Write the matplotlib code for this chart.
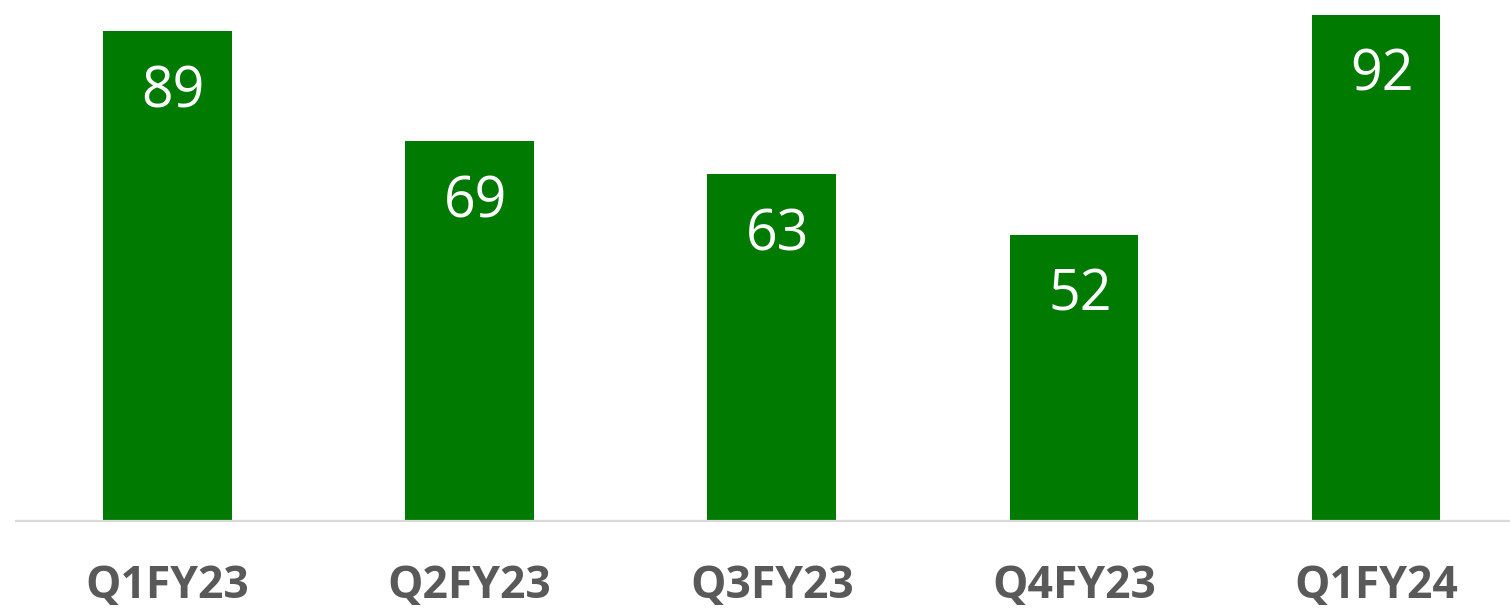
import matplotlib
matplotlib.use("Agg")
import matplotlib.pyplot as plt

quarters = ["Q1FY23", "Q2FY23", "Q3FY23", "Q4FY23", "Q1FY24"]
values = [89, 69, 63, 52, 92]

GREEN = "#007a00"
GREY = "#595959"

fig = plt.figure(figsize=(15.10, 6.08), dpi=100)
ax = fig.add_axes([16 / 1510, 87 / 608, 1 - 16 / 1510, 1 - 87 / 608])

x = range(len(quarters))
bars = ax.bar(x, values, width=0.426, color=GREEN, zorder=2)

# value labels sit inside the bar top, nudged slightly right like the original
for rect, v in zip(bars, values):
    ax.annotate(str(v), (rect.get_x() + rect.get_width() / 2, v),
                xytext=(6, -76), textcoords="offset pixels",
                ha="center", va="baseline", fontsize=40,
                family="Open Sans", color="white")

ax.set_xlim(-0.501, 4.443)
ax.set_ylim(0, 94.7)
ax.set_xticks(list(x))
ax.set_xticklabels(quarters, fontsize=32, fontweight="bold",
                   family="Open Sans", color=GREY)
ax.tick_params(axis="x", length=0, pad=31)
ax.set_yticks([])
for side in ("top", "left", "right"):
    ax.spines[side].set_visible(False)
ax.spines["bottom"].set_color("#d9d9d9")
ax.spines["bottom"].set_linewidth(1.6)

fig.savefig("out.png", dpi=100, facecolor="white")
